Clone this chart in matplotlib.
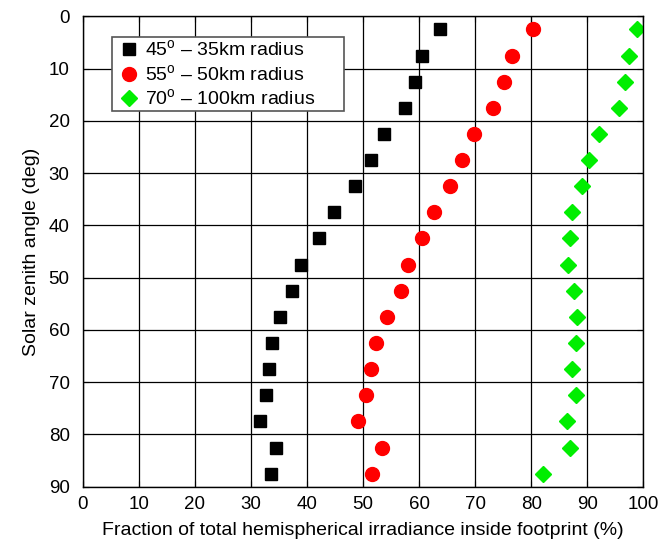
import matplotlib
matplotlib.use("Agg")
import matplotlib.pyplot as plt
from matplotlib.patches import Rectangle

plt.rcParams['font.family'] = ['Liberation Sans', 'DejaVu Sans']
plt.rcParams['mathtext.fontset'] = 'custom'
plt.rcParams['mathtext.rm'] = 'Liberation Sans'

zenith = [2.5, 7.5, 12.5, 17.5, 22.5, 27.5, 32.5, 37.5, 42.5, 47.5,
          52.5, 57.5, 62.5, 67.5, 72.5, 77.5, 82.5, 87.5]
frac_45 = [63.7, 60.5, 59.3, 57.4, 53.8, 51.4, 48.6, 44.9, 42.2, 39.0,
           37.3, 35.2, 33.8, 33.3, 32.7, 31.6, 34.5, 33.5]
frac_55 = [80.4, 76.5, 75.2, 73.2, 69.8, 67.7, 65.5, 62.6, 60.5, 58.0,
           56.7, 54.3, 52.3, 51.5, 50.5, 49.1, 53.4, 51.6]
frac_70 = [98.9, 97.5, 96.8, 95.6, 92.1, 90.4, 89.1, 87.3, 86.9, 86.5,
           87.7, 88.2, 88.0, 87.3, 88.0, 86.4, 86.9, 82.1]
labels = ["45$^{\\mathrm{o}}$ \u2013 35km radius",
          "55$^{\\mathrm{o}}$ \u2013 50km radius",
          "70$^{\\mathrm{o}}$ \u2013 100km radius"]
xticks = [0, 10, 20, 30, 40, 50, 60, 70, 80, 90, 100]
yticks = [0, 10, 20, 30, 40, 50, 60, 70, 80, 90]

fig = plt.figure(figsize=(6.68, 5.40), dpi=100)
ax = fig.add_axes([0.124, 0.0987, 0.839, 0.871])

ax.plot(frac_45, zenith, 's', color='black', markersize=9, linestyle='none', label=labels[0])
ax.plot(frac_55, zenith, 'o', color='red', markersize=10, linestyle='none', label=labels[1])
ax.plot(frac_70, zenith, 'D', color='#00ee00', markersize=8.3, linestyle='none', label=labels[2])

ax.set_xlim(0, 100)
ax.set_ylim(90, 0)
ax.set_xticks(xticks)
ax.set_yticks(yticks)
ax.grid(True, color='black', linewidth=0.9)
ax.set_axisbelow(True)
ax.tick_params(direction='in', labelsize=13.5, top=True, right=True, length=4)
ax.tick_params(axis='x', pad=7)
ax.tick_params(axis='y', pad=9.5)
for s in ax.spines.values():
    s.set_linewidth(1.0)

ax.set_xlabel("Fraction of total hemispherical irradiance inside footprint (%)",
              fontsize=14)
ax.xaxis.label.set_va('baseline')
ax.xaxis.set_label_coords(0.5, -0.1025)
ax.set_ylabel("Solar zenith angle (deg)", fontsize=14)
ax.yaxis.label.set_va('center')
ax.yaxis.set_label_coords(-0.0916, 0.5)

# legend box
ax.add_patch(Rectangle((0.0518, 0.798), 0.4143, 0.1576, transform=ax.transAxes,
                       facecolor='white', edgecolor='#555555', linewidth=1.2,
                       zorder=3))
leg = ax.legend(loc='upper left', bbox_to_anchor=(0.068, 0.951), fontsize=14,
                handlelength=0.8, handletextpad=0.45, borderpad=0.0,
                borderaxespad=0.0, labelspacing=0.2, frameon=False, numpoints=1)
leg.set_zorder(5)

fig.savefig("out.png", dpi=100)
